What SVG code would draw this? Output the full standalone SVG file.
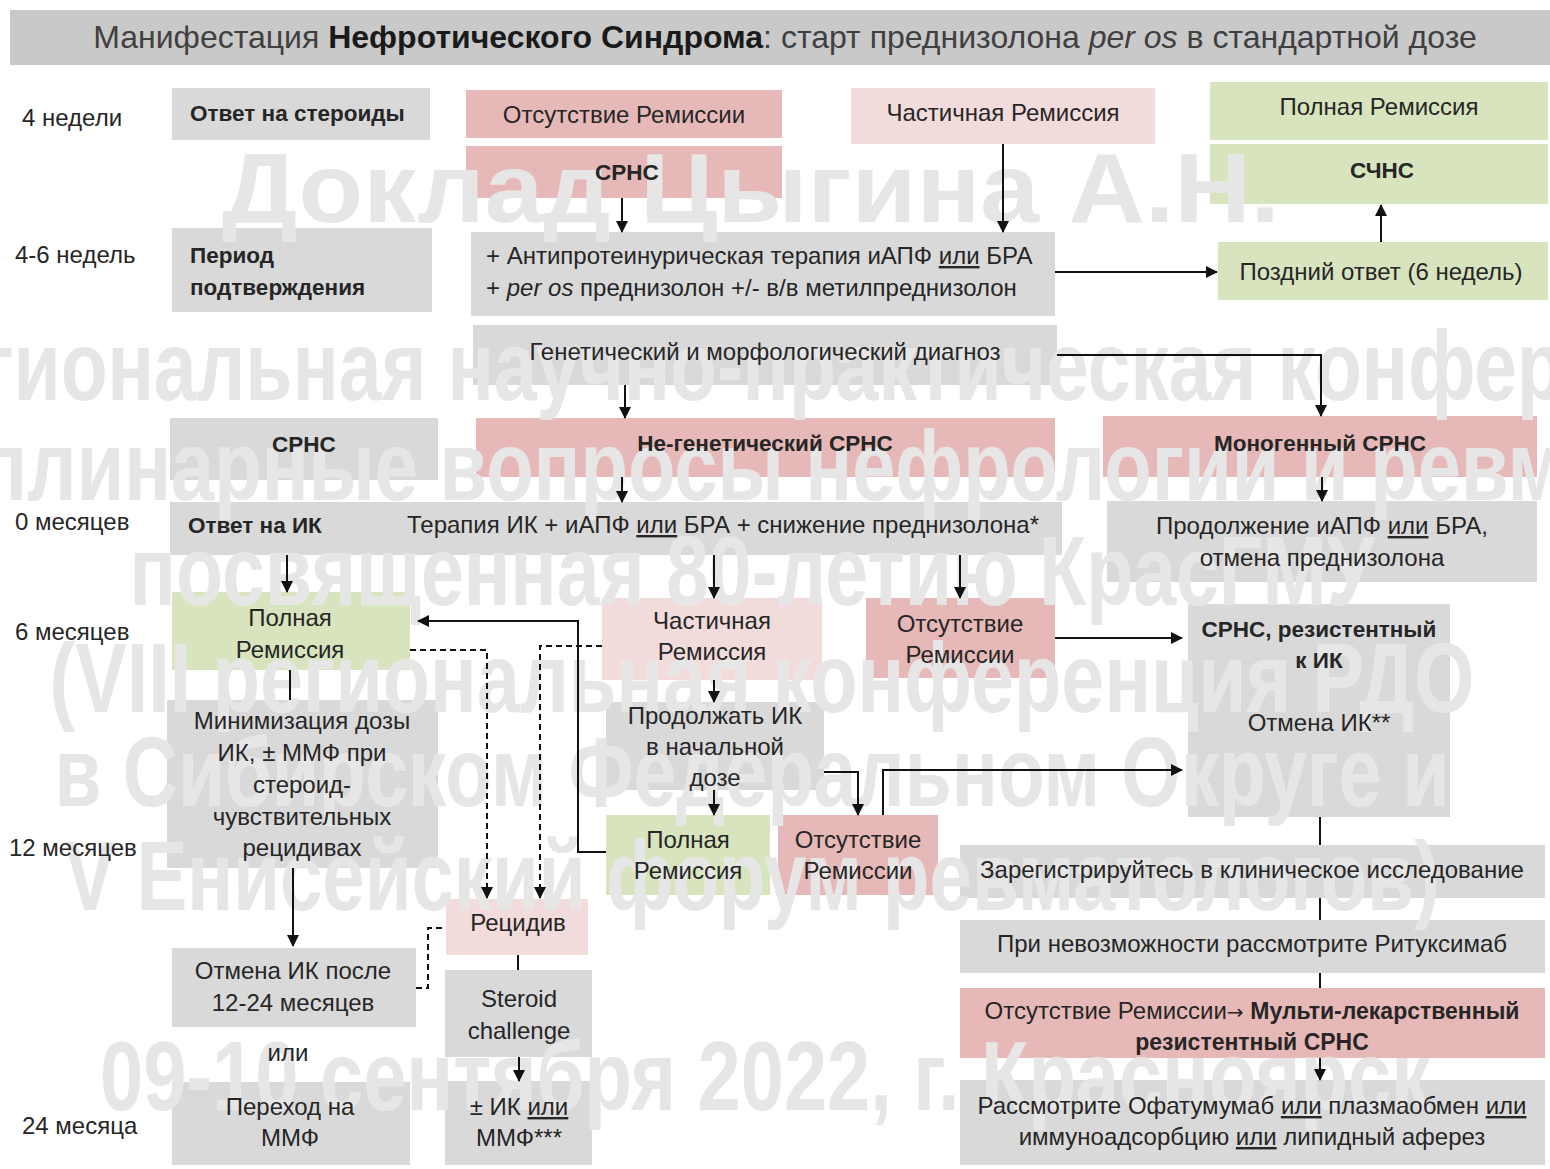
<svg xmlns="http://www.w3.org/2000/svg" width="1550" height="1169" viewBox="0 0 1550 1169">
<style>
.g{fill:#d9d9d9}.p{fill:#e6b9b8}.lp{fill:#f2dcdb}.gr{fill:#d7e4bd}.tb{fill:#c9c9c9}
.g,.p,.lp,.gr{mask:url(#wmask)}
text{font-family:"Liberation Sans",Arial,sans-serif;font-size:24px;fill:#262626}
.c{text-anchor:middle}.b{font-weight:bold;font-size:22.5px}
.wm{font-family:"Liberation Sans",Arial,sans-serif;font-size:98px;font-weight:bold;text-anchor:middle}
.ln{fill:none;stroke:#111;stroke-width:2}
.ar{marker-end:url(#ah)}
.d{stroke-dasharray:6 4}
</style>
<defs>
<marker id="ah" markerUnits="userSpaceOnUse" markerWidth="12" markerHeight="12" refX="11" refY="6" orient="auto">
<path d="M0,0 L12,6 L0,12 z" fill="#111"/>
</marker>
<g id="wmtext">
<text class="wm" style="fill:inherit" x="751" y="222" textLength="1058" lengthAdjust="spacingAndGlyphs">Доклад Цыгина А.Н.</text>
<text class="wm" style="fill:inherit" x="762" y="400" textLength="2060" lengthAdjust="spacingAndGlyphs">Межрегиональная научно-практическая конференция</text>
<text class="wm" style="fill:inherit" x="748" y="500" textLength="2330" lengthAdjust="spacingAndGlyphs">Междисциплинарные вопросы нефрологии и ревматологии</text>
<text class="wm" style="fill:inherit" x="752" y="605" textLength="1245" lengthAdjust="spacingAndGlyphs">посвященная 80-летию КрасГМУ</text>
<text class="wm" style="fill:inherit" x="762" y="712" textLength="1425" lengthAdjust="spacingAndGlyphs">(VIII региональная конференция РДО</text>
<text class="wm" style="fill:inherit" x="752" y="806" textLength="1395" lengthAdjust="spacingAndGlyphs">в Сибирском Федеральном Округе и</text>
<text class="wm" style="fill:inherit" x="752" y="910" textLength="1375" lengthAdjust="spacingAndGlyphs">V Енисейский форум ревматологов)</text>
<text class="wm" style="fill:inherit" x="765" y="1110" textLength="1330" lengthAdjust="spacingAndGlyphs">09-10 сентября 2022, г. Красноярск</text>
</g>
<mask id="wmask" maskUnits="userSpaceOnUse" x="0" y="0" width="1550" height="1169">
<rect x="0" y="0" width="1550" height="1169" fill="#fff"/>
<use href="#wmtext" fill="#000"/>
</mask>
</defs>
<rect width="1550" height="1169" fill="#fff"/>
<g id="watermark"><use href="#wmtext" fill="#e6e6e6"/></g>
<g id="title">
<rect class="tb" x="10" y="10" width="1540" height="55"/>
<text class="c" x="785" y="48" style="font-size:32px;fill:#404040">Манифестация  <tspan style="font-weight:bold;fill:#1a1a1a">Нефротического Синдрома</tspan>: старт преднизолона <tspan font-style="italic">per os</tspan> в стандартной дозе</text>
</g>
<g id="timeline">
<text x="22" y="126">4 недели</text>
<text x="15" y="263">4-6 недель</text>
<text x="15" y="530">0 месяцев</text>
<text x="15" y="640">6 месяцев</text>
<text x="9" y="856">12 месяцев</text>
<text x="22" y="1134">24 месяца</text>
</g>
<g id="n-otvet-steroidy"><rect class="g" x="172" y="88" width="258" height="52"/><text class="b" x="190" y="121">Ответ на стероиды</text></g>
<g id="n-otsutstvie1"><rect class="p" x="466" y="90" width="316" height="48"/><text class="c" x="624" y="123">Отсутствие Ремиссии</text></g>
<g id="n-srns1"><rect class="p" x="466" y="146" width="316" height="52"/><text class="c b" x="627" y="180">СРНС</text></g>
<g id="n-chastichnaya1"><rect class="lp" x="851" y="88" width="304" height="56"/><text class="c" x="1003" y="121">Частичная Ремиссия</text></g>
<g id="n-polnaya1"><rect class="gr" x="1210" y="82" width="338" height="58"/><text class="c" x="1379" y="115">Полная Ремиссия</text></g>
<g id="n-schns"><rect class="gr" x="1210" y="144" width="338" height="60"/><text class="c b" x="1382" y="178">СЧНС</text></g>
<g id="n-period"><rect class="g" x="172" y="228" width="260" height="84"/><text class="b" x="190" y="263">Период</text><text class="b" x="190" y="295">подтверждения</text></g>
<g id="n-terapiya1"><rect class="g" x="471" y="232" width="584" height="84"/><text x="486" y="264">+ Антипротеинурическая терапия иАПФ <tspan text-decoration="underline">или</tspan> БРА</text><text x="486" y="296">+ <tspan font-style="italic">per os</tspan> преднизолон +/- в/в метилпреднизолон</text></g>
<g id="n-pozdniy"><rect class="gr" x="1218" y="242" width="330" height="58"/><text class="c" x="1381" y="280">Поздний ответ (6 недель)</text></g>
<g id="n-diagnoz"><rect class="g" x="473" y="325" width="584" height="60"/><text class="c" x="765" y="360">Генетический и морфологический диагноз</text></g>
<g id="n-srns2"><rect class="g" x="170" y="418" width="268" height="62"/><text class="c b" x="304" y="452">СРНС</text></g>
<g id="n-negenet"><rect class="p" x="476" y="418" width="579" height="59"/><text class="c b" x="765" y="451">Не-генетический СРНС</text></g>
<g id="n-monogen"><rect class="p" x="1103" y="416" width="434" height="61"/><text class="c b" x="1320" y="451">Моногенный СРНС</text></g>
<g id="n-terapiya-ik"><rect class="g" x="170" y="502" width="892" height="53"/><text class="b" x="188" y="533">Ответ на ИК</text><text x="407" y="533">Терапия ИК + иАПФ <tspan text-decoration="underline">или</tspan> БРА + снижение преднизолона*</text></g>
<g id="n-prodolzhenie"><rect class="g" x="1107" y="501" width="430" height="81"/><text class="c" x="1322" y="534">Продолжение иАПФ <tspan text-decoration="underline">или</tspan> БРА,</text><text class="c" x="1322" y="566">отмена преднизолона</text></g>
<g id="n-polnaya2"><rect class="gr" x="172" y="592" width="238" height="78"/><text class="c" x="290" y="626">Полная</text><text class="c" x="290" y="658">Ремиссия</text></g>
<g id="n-chastichnaya2"><rect class="lp" x="602" y="598" width="220" height="82"/><text class="c" x="712" y="629">Частичная</text><text class="c" x="712" y="660">Ремиссия</text></g>
<g id="n-otsutstvie2"><rect class="p" x="866" y="598" width="189" height="80"/><text class="c" x="960" y="632">Отсутствие</text><text class="c" x="960" y="663">Ремиссии</text></g>
<g id="n-srns-rezist"><rect class="g" x="1188" y="604" width="262" height="213"/><text class="c b" x="1319" y="637">СРНС, резистентный</text><text class="c b" x="1319" y="668">к ИК</text><text class="c" x="1319" y="731">Отмена ИК**</text></g>
<g id="n-minimizaciya"><rect class="g" x="167" y="700" width="271" height="168"/><text class="c" x="302" y="729">Минимизация дозы</text><text class="c" x="302" y="761">ИК, ± ММФ при</text><text class="c" x="302" y="793">стероид-</text><text class="c" x="302" y="825">чувствительных</text><text class="c" x="302" y="856">рецидивах</text></g>
<g id="n-prodolzhat"><rect class="g" x="606" y="702" width="218" height="88"/><text class="c" x="715" y="724">Продолжать ИК</text><text class="c" x="715" y="755">в начальной</text><text class="c" x="715" y="786">дозе</text></g>
<g id="n-polnaya3"><rect class="gr" x="606" y="815" width="164" height="80"/><text class="c" x="688" y="848">Полная</text><text class="c" x="688" y="879">Ремиссия</text></g>
<g id="n-otsutstvie3"><rect class="p" x="778" y="815" width="160" height="80"/><text class="c" x="858" y="848">Отсутствие</text><text class="c" x="858" y="879">Ремиссии</text></g>
<g id="n-recidiv"><rect class="lp" x="446" y="899" width="142" height="56"/><text class="c" x="518" y="931">Рецидив</text></g>
<g id="n-otmena-ik"><rect class="g" x="172" y="948" width="244" height="79"/><text class="c" x="293" y="979">Отмена ИК после</text><text class="c" x="293" y="1011">12-24 месяцев</text></g>
<g id="n-steroid"><rect class="g" x="445" y="970" width="147" height="87"/><text class="c" x="519" y="1007">Steroid</text><text class="c" x="519" y="1039">challenge</text></g>
<text class="c" x="288" y="1061">или</text>
<g id="n-perehod"><rect class="g" x="172" y="1082" width="238" height="83"/><text class="c" x="290" y="1115">Переход на</text><text class="c" x="290" y="1146">ММФ</text></g>
<g id="n-ik-mmf"><rect class="g" x="445" y="1081" width="147" height="84"/><text class="c" x="519" y="1115">± ИК <tspan text-decoration="underline">или</tspan></text><text class="c" x="519" y="1146">ММФ***</text></g>
<g id="n-registr"><rect class="g" x="960" y="845" width="585" height="53"/><text class="c" x="1252" y="878">Зарегистрируйтесь в клиническое исследование</text></g>
<g id="n-rituksimab"><rect class="g" x="960" y="920" width="585" height="53"/><text class="c" x="1252" y="952">При невозможности рассмотрите Ритуксимаб</text></g>
<g id="n-multi"><rect class="p" x="960" y="988" width="585" height="70"/><text class="c" x="1252" y="1019">Отсутствие Ремиссии<tspan style="font-family:'DejaVu Sans',sans-serif;font-size:20px">→</tspan> <tspan style="font-weight:bold;font-size:23px">Мульти-лекарственный</tspan></text><text class="c b" x="1252" y="1050" style="font-size:23px">резистентный СРНС</text></g>
<g id="n-ofatumumab"><rect class="g" x="960" y="1080" width="585" height="85"/><text class="c" x="1252" y="1114">Рассмотрите Офатумумаб <tspan text-decoration="underline">или</tspan> плазмаобмен <tspan text-decoration="underline">или</tspan></text><text class="c" x="1252" y="1145">иммуноадсорбцию <tspan text-decoration="underline">или</tspan> липидный аферез</text></g>
<g id="connectors">
<path class="ln ar" d="M622,198 V232"/>
<path class="ln ar" d="M1003,144 V232"/>
<path class="ln ar" d="M1055,272 H1217"/>
<path class="ln ar" d="M1381,242 V205"/>
<path class="ln ar" d="M625,385 V418"/>
<path class="ln ar" d="M1057,355 H1321 V416"/>
<path class="ln ar" d="M622,477 V502"/>
<path class="ln ar" d="M1322,477 V501"/>
<path class="ln ar" d="M287,555 V592"/>
<path class="ln ar" d="M714,555 V598"/>
<path class="ln ar" d="M960,555 V598"/>
<path class="ln ar" d="M1055,638 H1182"/>
<path class="ln" d="M290,670 V700"/>
<path class="ln ar" d="M714,680 V702"/>
<path class="ln ar" d="M714,790 V815"/>
<path class="ln ar" d="M824,772 H858 V815"/>
<path class="ln ar" d="M883,815 V770 H1182"/>
<path class="ln ar" d="M606,852 H578 V621 H418"/>
<path class="ln ar d" d="M410,650 H487 V898"/>
<path class="ln ar d" d="M602,646 H540 V898"/>
<path class="ln ar" d="M293,868 V946"/>
<path class="ln d" d="M416,988 H428 V928 H446"/>
<path class="ln" d="M518,955 V970"/>
<path class="ln ar" d="M519,1057 V1081"/>
<path class="ln" d="M1320,817 V845"/>
<path class="ln" d="M1320,898 V920"/>
<path class="ln" d="M1320,973 V988"/>
<path class="ln ar" d="M1320,1058 V1080"/>
</g>
</svg>
